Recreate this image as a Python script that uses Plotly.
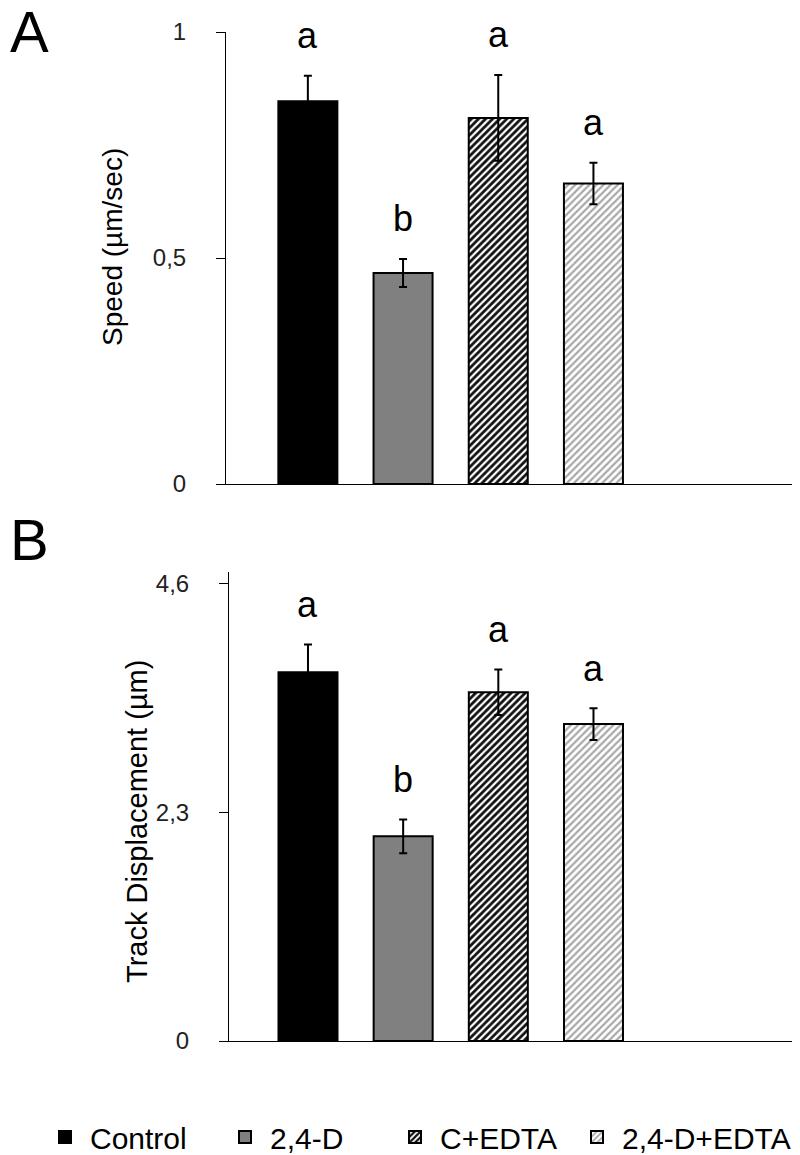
import plotly.graph_objects as go

categories = ["Control", "2,4-D", "C+EDTA", "2,4-D+EDTA"]
speed = [0.847, 0.467, 0.810, 0.665]
speed_err = [0.056, 0.031, 0.095, 0.046]
speed_letters = ["a", "b", "a", "a"]
track = [3.71, 2.06, 3.51, 3.19]
track_err = [0.28, 0.17, 0.23, 0.16]
track_letters = ["a", "b", "a", "a"]
speed_ticks = [0, 0.5, 1]
speed_ticktext = ["0", "0,5", "1"]
track_ticks = [0, 2.3, 4.6]
track_ticktext = ["0", "2,3", "4,6"]

FONT = "Arial, Liberation Sans, sans-serif"

# page body has an 8px default margin; figure is sized/positioned to compensate
OFF = 8
W, H = 800 - OFF, 1155 - OFF


def px(x):
    return (x - OFF) / W


def py(y):
    return 1 - (y - OFF) / H


styles = [
    dict(color="black", pattern=dict(shape="")),
    dict(color="#808080", pattern=dict(shape="")),
    dict(color="#303030", pattern=dict(shape="/", fgcolor="#111111", bgcolor="#ffffff", size=5, solidity=0.55, fillmode="replace")),
    dict(color="#d0d0d0", pattern=dict(shape="/", fgcolor="#a8a8a8", bgcolor="#ffffff", size=5, solidity=0.45, fillmode="replace")),
]
legend_ids = ["legend", "legend2", "legend3", "legend4"]
legend_x_px = [40, 220, 390, 572]

fig = go.Figure()
for i, cat in enumerate(categories):
    st = styles[i]
    fig.add_trace(go.Bar(
        x=[cat], y=[speed[i]], name=cat, legendgroup=cat, showlegend=True, legend=legend_ids[i],
        marker=dict(color=st["color"], pattern=st["pattern"], line=dict(color="black", width=2)),
        error_y=dict(type="data", array=[speed_err[i]], color="black", thickness=2, width=4),
        width=0.62, xaxis="x", yaxis="y",
    ))
    fig.add_trace(go.Bar(
        x=[cat], y=[track[i]], name=cat, legendgroup=cat, showlegend=False,
        marker=dict(color=st["color"], pattern=st["pattern"], line=dict(color="black", width=2)),
        error_y=dict(type="data", array=[track_err[i]], color="black", thickness=2, width=4),
        width=0.62, xaxis="x2", yaxis="y2",
    ))

annotations = []
for i, cat in enumerate(categories):
    annotations.append(dict(x=cat, y=speed[i] + speed_err[i], xref="x", yref="y", text=speed_letters[i],
                            showarrow=False, yshift=40, font=dict(size=36, color="black", family=FONT)))
    annotations.append(dict(x=cat, y=track[i] + track_err[i], xref="x2", yref="y2", text=track_letters[i],
                            showarrow=False, yshift=40, font=dict(size=36, color="black", family=FONT)))

annotations += [
    dict(x=0.0, y=py(32), xref="paper", yref="paper", xanchor="left", yanchor="middle", text="A", showarrow=False,
         font=dict(size=58, color="black", family=FONT)),
    dict(x=0.0, y=py(539), xref="paper", yref="paper", xanchor="left", yanchor="middle", text="B", showarrow=False,
         font=dict(size=58, color="black", family=FONT)),
    dict(x=px(113), y=py(247), xref="paper", yref="paper", xanchor="center", yanchor="middle",
         text="Speed (µm/sec)", textangle=-90,
         showarrow=False, font=dict(size=28, color="black", family=FONT)),
    dict(x=px(137), y=py(822), xref="paper", yref="paper", xanchor="center", yanchor="middle",
         text="Track Displacement (µm)", textangle=-90,
         showarrow=False, font=dict(size=29, color="black", family=FONT)),
]

yax_common = dict(showgrid=False, zeroline=False, showline=True, linecolor="black", linewidth=1,
                  ticks="outside", ticklen=9, tickcolor="black", tickwidth=1,
                  tickfont=dict(size=24, color="#222", family=FONT), ticklabelstandoff=25)
xax_common = dict(showgrid=False, zeroline=False, showline=True, linecolor="black", linewidth=1,
                  showticklabels=False, ticks="", type="category")

legend_layout = {}
for lid, lx in zip(legend_ids, legend_x_px):
    legend_layout[lid] = dict(orientation="h", x=px(lx), xanchor="left", y=py(1137), yanchor="middle",
                              font=dict(size=30, color="black", family=FONT), itemwidth=40,
                              bgcolor="rgba(0,0,0,0)")

fig.update_layout(
    width=W, height=H, margin=dict(l=0, r=0, t=0, b=0, autoexpand=False),
    paper_bgcolor="white", plot_bgcolor="white",
    font=dict(family=FONT, color="black"),
    barmode="overlay",
    xaxis=dict(domain=[px(226), 1], range=[-0.86, 5.17], anchor="y", **xax_common),
    yaxis=dict(domain=[py(484), py(32)], range=[0, 1], anchor="x",
               tickvals=speed_ticks, ticktext=speed_ticktext, **yax_common),
    xaxis2=dict(domain=[px(229), 1], range=[-0.83, 5.17], anchor="y2", **xax_common),
    yaxis2=dict(domain=[py(1041), py(572)], range=[0, 4.72], anchor="x2",
                tickvals=track_ticks, ticktext=track_ticktext, **yax_common),
    annotations=annotations,
    showlegend=True,
    **legend_layout,
)

fig.write_html("out.html")
